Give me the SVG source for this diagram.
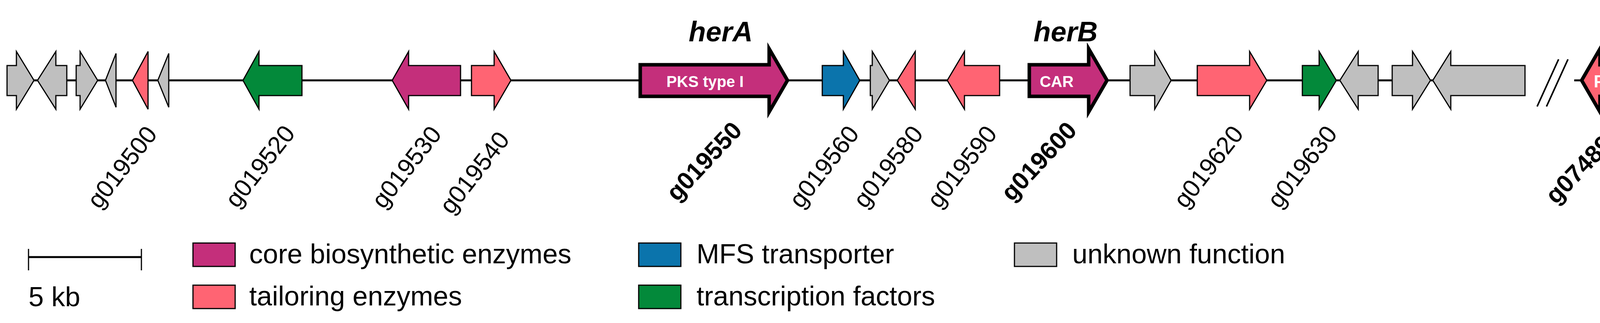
<svg xmlns="http://www.w3.org/2000/svg" width="4196" height="828" viewBox="0 0 4196 828">
<style>
.g{stroke:#000;stroke-width:3;stroke-linejoin:miter}
.b{stroke:#000;stroke-width:9;stroke-linejoin:miter}
.u{fill:#bfbfbf}.c{fill:#c42f7b}.t{fill:#ff6473}.m{fill:#0b74ac}.f{fill:#03893a}
.lab{font-family:"Liberation Sans",Arial,sans-serif;font-size:63px;fill:#000;text-anchor:end}
.bold{font-weight:bold}
.leg{font-family:"Liberation Sans",Arial,sans-serif;font-size:70px;fill:#000}
.in{font-family:"Liberation Sans",Arial,sans-serif;font-weight:bold;fill:#fff;text-anchor:middle}
.ln{stroke:#000;stroke-width:5;fill:none}
</style>
<g id="connectors">
<line class="ln" x1="18" y1="206" x2="3904" y2="206"/>
<line class="ln" x1="4030" y1="206" x2="4168" y2="206"/>
<line x1="3935" y1="273" x2="3990" y2="152" stroke="#000" stroke-width="4"/>
<line x1="3959" y1="273" x2="4014" y2="152" stroke="#000" stroke-width="4"/>
</g>
<g id="gene1"><path class="g u" d="M18,168H42V132L87,206L42,280V245H18Z"/></g>
<g id="gene2"><path class="g u" d="M171,168H143V132L96,206L143,280V245H171Z"/></g>
<g id="gene3"><path class="g u" d="M195,168H205V132L250,206L205,280V245H195Z"/></g>
<g id="gene4"><path class="g u" d="M297,137L270,206L297,275Z"/></g>
<g id="g019500"><path class="g t" d="M379,132L339,206L379,280Z"/>
<text class="lab" transform="translate(405,345) rotate(-52)">g019500</text></g>
<g id="gene6"><path class="g u" d="M432,137L404,206L432,275Z"/></g>
<g id="g019520"><path class="g f" d="M773,168H663V132L622,206L663,280V245H773Z"/>
<text class="lab" transform="translate(758,343) rotate(-52)">g019520</text></g>
<g id="g019530"><path class="g c" d="M1179,168H1046V132L1004,206L1046,280V245H1179Z"/>
<text class="lab" transform="translate(1133,345) rotate(-52)">g019530</text></g>
<g id="g019540"><path class="g t" d="M1207,168H1265V132L1308,206L1265,280V245H1207Z"/>
<text class="lab" transform="translate(1307,359) rotate(-52)">g019540</text></g>
<g id="g019550"><text x="1845" y="106" font-family="Liberation Sans,Arial,sans-serif" font-size="72" font-weight="bold" font-style="italic" text-anchor="middle">herA</text>
<path class="b c" d="M1639,166H1969V125L2016,206L1969,287V247H1639Z"/>
<text class="in" x="1805" y="223" font-size="40">PKS type I</text>
<text class="lab bold" transform="translate(1903,337) rotate(-47)">g019550</text></g>
<g id="g019560"><path class="g m" d="M2105,168H2159V132L2201,206L2159,280V245H2105Z"/>
<text class="lab" transform="translate(2202,344) rotate(-52)">g019560</text></g>
<g id="gene_2228"><path class="g u" d="M2228,168H2233V132L2277,206L2233,280V245H2228Z"/></g>
<g id="g019580"><path class="g t" d="M2343,168V132L2297,206L2343,280V245Z"/>
<text class="lab" transform="translate(2366,344) rotate(-52)">g019580</text></g>
<g id="g019590"><path class="g t" d="M2559,168H2469V132L2425,206L2469,280V245H2559Z"/>
<text class="lab" transform="translate(2555,344) rotate(-52)">g019590</text></g>
<g id="g019600"><text x="2728" y="106" font-family="Liberation Sans,Arial,sans-serif" font-size="72" font-weight="bold" font-style="italic" text-anchor="middle">herB</text>
<path class="b c" d="M2635,166H2787V125L2834,206L2787,287V247H2635Z"/>
<text class="in" x="2705" y="223" font-size="40">CAR</text>
<text class="lab bold" transform="translate(2760,337) rotate(-47)">g019600</text></g>
<g id="gene_2893"><path class="g u" d="M2893,168H2956V132L2998,206L2956,280V245H2893Z"/></g>
<g id="g019620"><path class="g t" d="M3065,168H3199V132L3243,206L3199,280V245H3065Z"/>
<text class="lab" transform="translate(3186,344) rotate(-52)">g019620</text></g>
<g id="g019630"><path class="g f" d="M3334,168H3377V132L3421,206L3377,280V245H3334Z"/>
<text class="lab" transform="translate(3426,344) rotate(-52)">g019630</text></g>
<g id="gene_3430"><path class="g u" d="M3528,168H3477V132L3430,206L3477,280V245H3528Z"/></g>
<g id="gene_3564"><path class="g u" d="M3564,168H3616V132L3662,206L3616,280V245H3564Z"/></g>
<g id="gene_3668"><path class="g u" d="M3904,168H3714V132L3668,206L3714,280V245H3904Z"/></g>
<g id="g074890"><path class="b t" d="M4150,166H4096V125L4049,206L4096,287V247H4150Z"/>
<text class="in" x="4108" y="224" font-size="44">PT</text>
<text class="lab bold" transform="translate(4156,347) rotate(-46)">g074890</text></g>
<g id="scale">
<line x1="73" y1="659" x2="362" y2="659" stroke="#000" stroke-width="5"/>
<line x1="73" y1="638" x2="73" y2="693" stroke="#000" stroke-width="3"/>
<line x1="362" y1="638" x2="362" y2="693" stroke="#000" stroke-width="3"/>
<text class="leg" x="73" y="785">5 kb</text>
</g>
<g id="legend">
<rect class="g c" x="494" y="623" width="108" height="60"/><text class="leg" x="638" y="675">core biosynthetic enzymes</text>
<rect class="g t" x="494" y="731" width="108" height="60"/><text class="leg" x="638" y="783">tailoring enzymes</text>
<rect class="g m" x="1635" y="623" width="108" height="60"/><text class="leg" x="1783" y="675">MFS transporter</text>
<rect class="g f" x="1635" y="731" width="108" height="60"/><text class="leg" x="1783" y="783">transcription factors</text>
<rect class="g u" x="2597" y="623" width="108" height="60"/><text class="leg" x="2745" y="675">unknown function</text>
</g>
</svg>
